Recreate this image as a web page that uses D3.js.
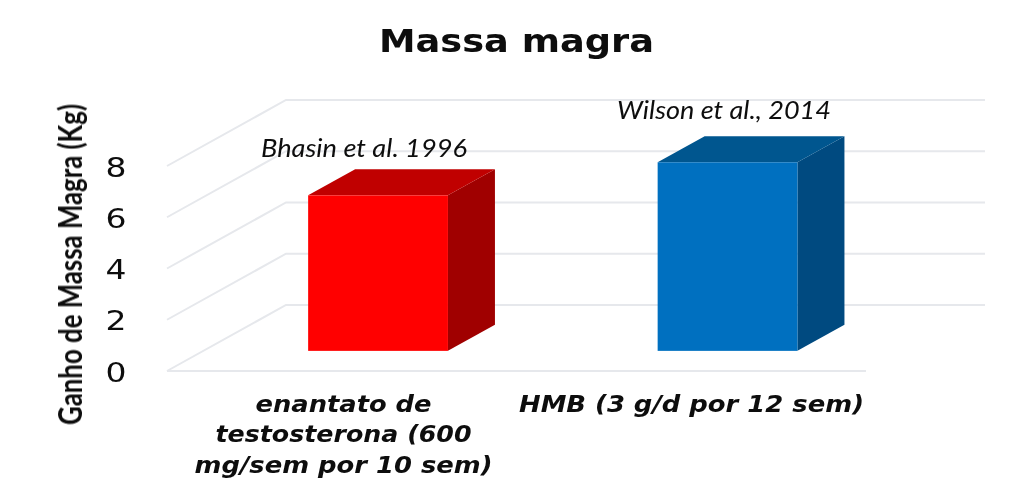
<!DOCTYPE html>
<html>
<head>
<meta charset="utf-8">
<script src="https://d3js.org/d3.v7.min.js"></script>
<style>
  html, body { margin: 0; padding: 0; background: #fff; }
  svg { display: block; }
  text { fill: #0c0c0c; }
</style>
</head>
<body>
<div id="graphicContainer"></div>
<script>
var categories = ["enantato de testosterona (600 mg/sem por 10 sem)", "HMB (3 g/d por 12 sem)"]
var categoryLines = [["enantato de", "testosterona (600", "mg/sem por 10 sem)"], ["HMB (3 g/d por 12 sem)"]]
var values = [6.07, 7.36]
var studies = ["Bhasin et al. 1996", "Wilson et al., 2014"]
var yTicks = [0, 2, 4, 6, 8]
var faceColours = ["#ff0000", "#0070c0"]
var topColours = ["#c00000", "#00568f"]
var sideColours = ["#a00000", "#004a80"]

var width = 1024, height = 485

var svg = d3.select("#graphicContainer").append("svg")
  .attr("width", width)
  .attr("height", height)

// the source is a soft upscaled image, so take the edge off the text
svg.append("defs").append("filter")
  .attr("id", "soft")
  .append("feGaussianBlur")
  .attr("stdDeviation", 0.45)

// front plane of the fake 3d box
var x = d3.scaleBand()
  .domain(categories)
  .range([167, 866])
  .paddingInner(0.6)
  .paddingOuter(0.3)

var y = d3.scaleLinear()
  .domain([0, 8])
  .range([371, 166])

// depth goes from 0 (front wall) to 1 (back wall)
var depthX = d3.scaleLinear().domain([0, 1]).range([0, 119])
var depthY = d3.scaleLinear().domain([0, 1]).range([0, -66])
var barDepth = [0.305, 0.7]

var px = (v, d) => v + depthX(d)
var py = (v, d) => y(v) + depthY(d)

var grid = svg.append("g")
grid.selectAll("path")
  .data(yTicks)
  .enter()
  .append("path")
  .attr("fill", "none")
  .attr("stroke", "#e6e8ec")
  .attr("stroke-width", 2)
  .attr("d", d => d3.line()([
    [px(x.range()[0], 0), py(d, 0)],
    [px(x.range()[0], 1), py(d, 1)],
    [px(x.range()[1], 1), py(d, 1)]
  ]))

svg.append("line")
  .attr("x1", x.range()[0])
  .attr("x2", x.range()[1])
  .attr("y1", y(0))
  .attr("y2", y(0))
  .attr("stroke", "#e6e8ec")
  .attr("stroke-width", 2)

var bars = svg.append("g")
  .selectAll("g")
  .data(values)
  .enter()
  .append("g")

var left = i => x(categories[i])
var right = i => x(categories[i]) + x.bandwidth()
var poly = pts => d3.line()(pts) + "Z"

// right side
bars.append("path")
  .attr("fill", (d, i) => sideColours[i])
  .attr("d", (d, i) => poly([
    [px(right(i), barDepth[0]), py(0, barDepth[0])],
    [px(right(i), barDepth[1]), py(0, barDepth[1])],
    [px(right(i), barDepth[1]), py(d, barDepth[1])],
    [px(right(i), barDepth[0]), py(d, barDepth[0])]
  ]))

// top
bars.append("path")
  .attr("fill", (d, i) => topColours[i])
  .attr("d", (d, i) => poly([
    [px(left(i), barDepth[0]), py(d, barDepth[0])],
    [px(left(i), barDepth[1]), py(d, barDepth[1])],
    [px(right(i), barDepth[1]), py(d, barDepth[1])],
    [px(right(i), barDepth[0]), py(d, barDepth[0])]
  ]))

// front
bars.append("rect")
  .attr("fill", (d, i) => faceColours[i])
  .attr("x", (d, i) => px(left(i), barDepth[0]))
  .attr("y", d => py(d, barDepth[0]))
  .attr("width", x.bandwidth())
  .attr("height", d => py(0, barDepth[0]) - py(d, barDepth[0]))

var texts = svg.append("g").attr("filter", "url(#soft)")

texts.append("text")
  .attr("x", 516.5)
  .attr("y", 52)
  .attr("text-anchor", "middle")
  .attr("font-family", "DejaVu Sans")
  .attr("font-weight", "bold")
  .attr("font-size", 32)
  .attr("textLength", 275)
  .attr("lengthAdjust", "spacingAndGlyphs")
  .text("Massa magra")

texts.append("g")
  .selectAll("text")
  .data(yTicks)
  .enter()
  .append("text")
  .attr("x", 116)
  .attr("y", d => y(d) + 10.5)
  .attr("text-anchor", "middle")
  .attr("font-family", "DejaVu Sans")
  .attr("font-size", 27)
  .attr("textLength", 21)
  .attr("lengthAdjust", "spacingAndGlyphs")
  .text(d => d)

texts.append("text")
  .attr("transform", "translate(82,264.5) rotate(-90)")
  .attr("text-anchor", "middle")
  .attr("font-family", "Lato")
  .attr("font-weight", "bold")
  .attr("font-size", 32)
  .attr("textLength", 321)
  .attr("lengthAdjust", "spacingAndGlyphs")
  .text("Ganho de Massa Magra (Kg)")

// study names over the bars
var studyX = [364, 724]
var studyY = [157, 119]
var studyLength = [206, 214]
texts.append("g")
  .selectAll("text")
  .data(studies)
  .enter()
  .append("text")
  .attr("x", (d, i) => studyX[i])
  .attr("y", (d, i) => studyY[i])
  .attr("text-anchor", "middle")
  .attr("font-family", "Lato")
  .attr("font-style", "italic")
  .attr("font-size", 26)
  .attr("textLength", (d, i) => studyLength[i])
  .attr("lengthAdjust", "spacingAndGlyphs")
  .text(d => d)

var labelX = [343.5, 691.5]
var labelLength = [[176, 256, 298], [345]]
var labels = texts.append("g")
  .selectAll("text")
  .data(categoryLines)
  .enter()
  .append("text")
  .attr("text-anchor", "middle")
  .attr("font-family", "DejaVu Sans")
  .attr("font-weight", "bold")
  .attr("font-style", "italic")
  .attr("font-size", 23)

labels.selectAll("tspan")
  .data((d, i) => d.map((line, j) => ({ line, i, j })))
  .enter()
  .append("tspan")
  .attr("x", d => labelX[d.i])
  .attr("y", d => 411.5 + d.j * 30.5)
  .attr("textLength", d => labelLength[d.i][d.j])
  .attr("lengthAdjust", "spacingAndGlyphs")
  .text(d => d.line)
</script>
</body>
</html>
